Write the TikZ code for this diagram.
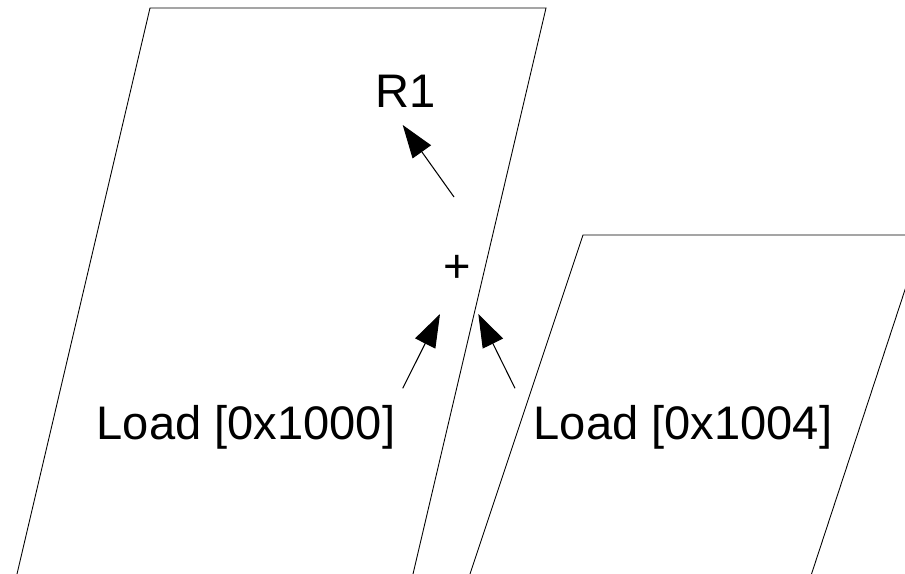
\documentclass[tikz,border=0pt]{standalone}
\usepackage{fontspec}
\setmainfont{Liberation Sans}
\usetikzlibrary{positioning, arrows.meta}

\begin{document}
\begin{tikzpicture}[
    x=0.02cm, y=-0.02cm,
    every node/.style={font=\fontsize{26.8}{32}\selectfont, inner sep=0pt},
    lbl/.style={anchor=base},
    sheet/.style={draw, line width=0.5pt},
    arrow/.style={-{Triangle[length=6.6mm, width=4.5mm]}, line width=0.6pt}
  ]
  \clip (0,0) rectangle (905,574);

  % two slanted sheets
  \draw[sheet] (17,574) -- (150,8) -- (546,8) -- (413,574);
  \draw[sheet] (470,574) -- (583,235) -- (923,235) -- (811.5,574);

  % labels
  \node[lbl] (r1)   at (406,108)   {R1};
  \node[lbl] (plus) at (457,282)   {+};
  \node[lbl] (ld1)  at (246,439)   {Load [0x1000]};
  \node[lbl] (ld2)  at (683,439)   {Load [0x1004]};

  % arrow ends
  \coordinate (up0) at (454,197);
  \coordinate (up1) at (402.7,125);
  \coordinate (la0) at (402.7,388.3);
  \coordinate (la1) at (440,314);
  \coordinate (ra0) at (515,388.3);
  \coordinate (ra1) at (478.3,314);

  \draw[arrow] (up0) -- (up1);
  \draw[arrow] (la0) -- (la1);
  \draw[arrow] (ra0) -- (ra1);
\end{tikzpicture}
\end{document}
